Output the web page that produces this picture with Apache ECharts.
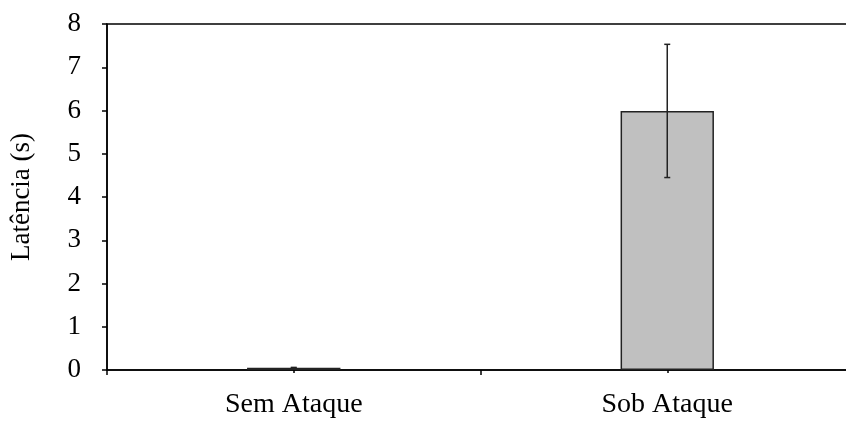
<!DOCTYPE html>
<html>
<head>
<meta charset="utf-8">
<script src="https://cdn.jsdelivr.net/npm/echarts@6/dist/echarts.min.js"></script>
<style>
html, body { margin: 0; padding: 0; background: #fff; overflow: hidden; }
#main { width: 846px; height: 421px; }
</style>
</head>
<body>
<div id="main"></div>
<script>
// data
var categories = ['Sem Ataque', 'Sob Ataque'];
var latencia = [0.05, 5.99];   // mean latency (s)
var desvio = [0.01, 1.54];     // error bar half-length (s)

var serif = '"Liberation Serif", "DejaVu Serif", serif';

var errData = categories.map(function (c, i) {
	return [i, latencia[i] - desvio[i], latencia[i] + desvio[i]];
});

var myChart = echarts.init(document.getElementById('main'));

option = {
	animation: false,
	grid: {
		left: 107,
		top: 24,
		right: -8,
		bottom: 51,
		containLabel: false,
		outerBoundsMode: 'none',
		show: true,
		borderColor: '#000',
		borderWidth: 1.5,
		backgroundColor: 'transparent'
	},
	xAxis: [
		{
			type: 'category',
			data: categories,
			axisLine: { lineStyle: { color: '#000', width: 1.5 } },
			axisTick: { show: true, length: 5, lineStyle: { color: '#000', width: 1.5 } },
			axisLabel: { color: '#000', fontFamily: serif, fontSize: 28, margin: 21 }
		},
		{
			type: 'category',
			data: categories,
			position: 'bottom',
			axisLine: { show: false },
			axisTick: { show: true, alignWithLabel: true, length: 3, lineStyle: { color: '#000', width: 1.5 } },
			axisLabel: { show: false }
		}
	],
	yAxis: {
		type: 'value',
		min: 0,
		max: 8,
		interval: 1,
		name: 'Latência (s)',
		nameLocation: 'middle',
		nameGap: 72,
		nameTextStyle: { color: '#000', fontFamily: serif, fontSize: 27 },
		axisLine: { show: true, lineStyle: { color: '#000', width: 1.5 } },
		axisTick: { show: true, length: 5, lineStyle: { color: '#000', width: 1.5 } },
		axisLabel: { color: '#000', fontFamily: serif, fontSize: 27, margin: 26 },
		splitLine: { show: false }
	},
	series: [
		{
			name: 'Latência',
			type: 'bar',
			data: latencia,
			barWidth: '25%',
			itemStyle: { color: '#c0c0c0', borderColor: '#222', borderWidth: 1.5 }
		},
		{
			name: 'erro',
			type: 'custom',
			data: errData,
			z: 5,
			renderItem: function (params, api) {
				var x = api.value(0);
				var lo = api.coord([x, api.value(1)]);
				var hi = api.coord([x, api.value(2)]);
				var w = 3;
				var st = { stroke: '#222', lineWidth: 1.5 };
				return {
					type: 'group',
					children: [
						{ type: 'line', shape: { x1: lo[0], y1: lo[1], x2: hi[0], y2: hi[1] }, style: st },
						{ type: 'line', shape: { x1: hi[0] - w, y1: hi[1], x2: hi[0] + w, y2: hi[1] }, style: st },
						{ type: 'line', shape: { x1: lo[0] - w, y1: lo[1], x2: lo[0] + w, y2: lo[1] }, style: st }
					]
				};
			}
		}
	]
};
myChart.setOption(option);
</script>
</body>
</html>
